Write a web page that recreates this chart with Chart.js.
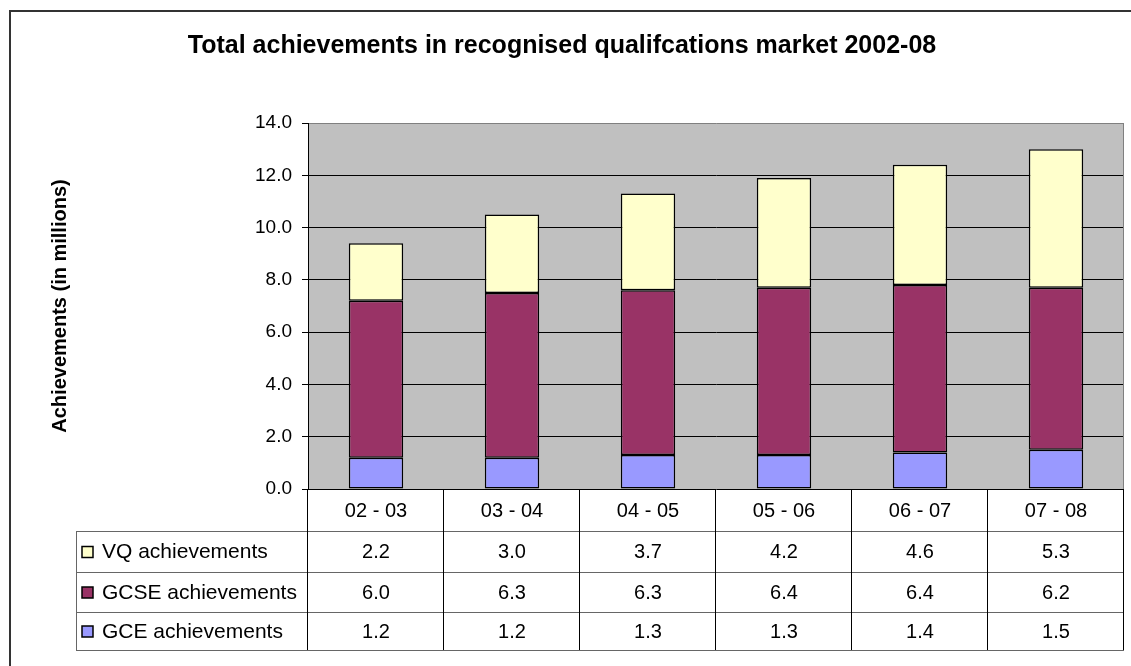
<!DOCTYPE html>
<html>
<head>
<meta charset="utf-8">
<script src="https://cdn.jsdelivr.net/npm/chart.js@4.4.0/dist/chart.umd.min.js"></script>
<style>
  html, body { margin: 0; padding: 0; background: #fff; }
  #wrap { width: 1131px; height: 666px; }
</style>
</head>
<body>
<div id="wrap"><canvas id="chart" width="1131" height="666"></canvas></div>
<script>
// Chart data
const categories = ['02 - 03', '03 - 04', '04 - 05', '05 - 06', '06 - 07', '07 - 08'];
const vqValues = [2.2, 3.0, 3.7, 4.2, 4.6, 5.3];
const gcseValues = [6.0, 6.3, 6.3, 6.4, 6.4, 6.2];
const gceValues = [1.2, 1.2, 1.3, 1.3, 1.4, 1.5];
const yTicks = [0, 2, 4, 6, 8, 10, 12, 14];

const seriesColors = { vq: '#FFFFCC', gcse: '#993366', gce: '#9999FF' };
const fontFamily = '"Liberation Sans", Arial, sans-serif';

// rows of the data table under the plot (top to bottom)
const tableRows = [
    { label: 'VQ achievements', values: vqValues, color: seriesColors.vq },
    { label: 'GCSE achievements', values: gcseValues, color: seriesColors.gcse },
    { label: 'GCE achievements', values: gceValues, color: seriesColors.gce },
];

// Plot background, frame and data table
const tablePlugin = {
    id: 'tablePlugin',
    beforeDraw(chart) {
        const { ctx, chartArea: a } = chart;
        ctx.save();
        ctx.fillStyle = '#fff';
        ctx.fillRect(0, 0, chart.width, chart.height);
        ctx.strokeStyle = '#333';
        ctx.lineWidth = 2;
        ctx.strokeRect(10, 11, 1300, 1000);
        ctx.fillStyle = '#C0C0C0';
        ctx.fillRect(a.left, a.top, a.right - a.left, a.bottom - a.top);
        ctx.restore();
    },
    afterDatasetsDraw(chart) {
        const { ctx, chartArea: a } = chart;
        const x = chart.scales.x;
        const colW = (a.right - a.left) / categories.length;
        const headerBottom = a.bottom + 42;
        const rowH = [41, 40, 38];
        const tableLeft = 76;
        ctx.save();

        // right plot edge
        ctx.strokeStyle = '#808080';
        ctx.lineWidth = 1;
        ctx.beginPath();
        ctx.moveTo(a.right - 0.5, a.top);
        ctx.lineTo(a.right - 0.5, a.bottom);
        ctx.stroke();

        let rowTops = [headerBottom];
        rowH.forEach(h => rowTops.push(rowTops[rowTops.length - 1] + h));
        const tableBottom = rowTops[rowTops.length - 1];

        // horizontal lines
        ctx.strokeStyle = '#666';
        rowTops.forEach(y => {
            ctx.beginPath();
            ctx.moveTo(tableLeft, Math.round(y) + 0.5);
            ctx.lineTo(a.right, Math.round(y) + 0.5);
            ctx.stroke();
        });

        // vertical lines
        ctx.strokeStyle = '#000';
        for (let i = 0; i <= categories.length; i++) {
            const px = Math.round(a.left + i * colW) - 0.5;
            ctx.beginPath();
            ctx.moveTo(px, a.bottom);
            ctx.lineTo(px, tableBottom);
            ctx.stroke();
        }
        ctx.strokeStyle = '#666';
        ctx.beginPath();
        ctx.moveTo(tableLeft + 0.5, headerBottom);
        ctx.lineTo(tableLeft + 0.5, tableBottom);
        ctx.stroke();

        // header labels
        ctx.fillStyle = '#000';
        ctx.font = '20px ' + fontFamily;
        ctx.textAlign = 'center';
        ctx.textBaseline = 'middle';
        categories.forEach((c, i) => {
            ctx.fillText(c, x.getPixelForValue(i), (a.bottom + headerBottom) / 2 + 1);
        });

        // data rows
        tableRows.forEach((row, r) => {
            const cy = (rowTops[r] + rowTops[r + 1]) / 2 + 1;
            ctx.fillStyle = row.color;
            ctx.fillRect(82, cy - 6, 11, 11);
            ctx.strokeStyle = '#000';
            ctx.lineWidth = 1.5;
            ctx.strokeRect(82, cy - 6, 11, 11);
            ctx.fillStyle = '#000';
            ctx.textAlign = 'left';
            ctx.font = '21px ' + fontFamily;
            ctx.fillText(row.label, 102, cy);
            ctx.font = '20px ' + fontFamily;
            ctx.textAlign = 'center';
            row.values.forEach((v, i) => {
                ctx.fillText(v.toFixed(1), x.getPixelForValue(i), cy);
            });
        });
        ctx.restore();
    }
};

const chart = new Chart(document.getElementById('chart'), {
    type: 'bar',
    data: {
        labels: categories,
        datasets: [
            { label: 'GCE achievements', data: gceValues, backgroundColor: seriesColors.gce },
            { label: 'GCSE achievements', data: gcseValues, backgroundColor: seriesColors.gcse },
            { label: 'VQ achievements', data: vqValues, backgroundColor: seriesColors.vq },
        ]
    },
    options: {
        responsive: false,
        animation: false,
        layout: { padding: { left: 0, right: 7, top: 0, bottom: 177 } },
        datasets: {
            bar: {
                categoryPercentage: 1,
                barPercentage: 0.4,
                borderColor: '#000',
                borderWidth: 1.5,
                borderSkipped: false,
            }
        },
        plugins: {
            legend: { display: false },
            tooltip: { enabled: false },
            title: {
                display: true,
                text: 'Total achievements in recognised qualifcations market 2002-08',
                color: '#000',
                font: { family: fontFamily, size: 25, weight: 'bold' },
                padding: { top: 31, bottom: 62 },
            }
        },
        scales: {
            x: {
                stacked: true,
                display: false,
            },
            y: {
                stacked: true,
                min: 0,
                max: 14,
                afterBuildTicks(scale) {
                    scale.ticks = yTicks.map(v => ({ value: v }));
                },
                afterFit(scale) {
                    scale.width = 308;
                },
                ticks: {
                    color: '#000',
                    padding: 10,
                    font: { family: fontFamily, size: 19 },
                    callback: v => v.toFixed(1),
                },
                grid: {
                    color: ctx => (ctx.tick && ctx.tick.value === 14 ? '#808080' : '#000'),
                    tickColor: '#000',
                    tickLength: 6,
                    lineWidth: 1,
                },
                border: { color: '#000', width: 1 },
                title: {
                    display: true,
                    text: 'Achievements (in millions)',
                    color: '#000',
                    font: { family: fontFamily, size: 20, weight: 'bold' },
                    padding: { top: 48, bottom: 0 },
                }
            }
        }
    },
    plugins: [tablePlugin]
});
</script>
</body>
</html>
